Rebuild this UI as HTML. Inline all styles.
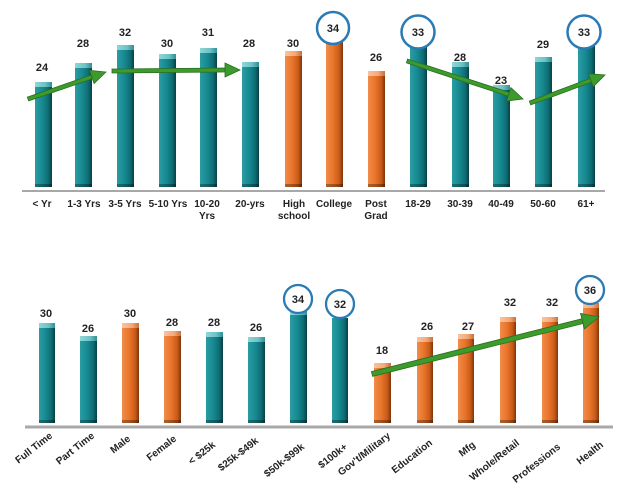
<!DOCTYPE html>
<html><head><meta charset="utf-8"><style>
html,body{margin:0;padding:0;background:#fff;}
svg{display:block;}
text{font-family:"Liberation Sans",sans-serif;font-weight:bold;fill:#222;}
.v{font-size:11px;text-anchor:middle;}
.c{font-size:10px;text-anchor:middle;}
.r{font-size:10px;text-anchor:end;}
</style></head><body>
<svg width="640" height="490" viewBox="0 0 640 490" xmlns="http://www.w3.org/2000/svg">
<defs>
<linearGradient id="tg" x1="0" x2="1" y1="0" y2="0">
<stop offset="0" stop-color="#2a9ca4"/><stop offset="0.45" stop-color="#168890"/><stop offset="0.78" stop-color="#0f6c73"/><stop offset="1" stop-color="#083f45"/>
</linearGradient>
<linearGradient id="tc" x1="0" x2="1" y1="0" y2="0">
<stop offset="0" stop-color="#8fd6d8"/><stop offset="0.6" stop-color="#6cc2c6"/><stop offset="1" stop-color="#2f8e94"/>
</linearGradient>
<linearGradient id="og" x1="0" x2="1" y1="0" y2="0">
<stop offset="0" stop-color="#f28c48"/><stop offset="0.45" stop-color="#e8732a"/><stop offset="0.78" stop-color="#c85a18"/><stop offset="1" stop-color="#7e360c"/>
</linearGradient>
<linearGradient id="oc" x1="0" x2="1" y1="0" y2="0">
<stop offset="0" stop-color="#f9c4a0"/><stop offset="0.6" stop-color="#f4a878"/><stop offset="1" stop-color="#c8703a"/>
</linearGradient>
</defs>

<!-- TOP CHART -->
<g>
<rect x="35" y="82" width="17" height="105" fill="url(#tg)"/><rect x="35" y="82" width="17" height="5" fill="url(#tc)"/>
<rect x="75" y="63" width="17" height="124" fill="url(#tg)"/><rect x="75" y="63" width="17" height="5" fill="url(#tc)"/>
<rect x="117" y="45" width="17" height="142" fill="url(#tg)"/><rect x="117" y="45" width="17" height="5" fill="url(#tc)"/>
<rect x="159" y="54" width="17" height="133" fill="url(#tg)"/><rect x="159" y="54" width="17" height="5" fill="url(#tc)"/>
<rect x="200" y="48" width="17" height="139" fill="url(#tg)"/><rect x="200" y="48" width="17" height="5" fill="url(#tc)"/>
<rect x="242" y="62" width="17" height="125" fill="url(#tg)"/><rect x="242" y="62" width="17" height="5" fill="url(#tc)"/>
<rect x="410" y="42" width="17" height="145" fill="url(#tg)"/>
<rect x="452" y="62" width="17" height="125" fill="url(#tg)"/><rect x="452" y="62" width="17" height="5" fill="url(#tc)"/>
<rect x="493" y="85" width="17" height="102" fill="url(#tg)"/><rect x="493" y="85" width="17" height="5" fill="url(#tc)"/>
<rect x="535" y="57" width="17" height="130" fill="url(#tg)"/><rect x="535" y="57" width="17" height="5" fill="url(#tc)"/>
<rect x="578" y="42" width="17" height="145" fill="url(#tg)"/>
<rect x="285" y="51" width="17" height="136" fill="url(#og)"/><rect x="285" y="51" width="17" height="5" fill="url(#oc)"/>
<rect x="326" y="37" width="17" height="150" fill="url(#og)"/>
<rect x="368" y="71" width="17" height="116" fill="url(#og)"/><rect x="368" y="71" width="17" height="5" fill="url(#oc)"/>
<g fill="#000" opacity="0.3">
<rect x="35" y="184" width="17" height="3"/><rect x="75" y="184" width="17" height="3"/><rect x="117" y="184" width="17" height="3"/><rect x="159" y="184" width="17" height="3"/><rect x="200" y="184" width="17" height="3"/><rect x="242" y="184" width="17" height="3"/><rect x="285" y="184" width="17" height="3"/><rect x="326" y="184" width="17" height="3"/><rect x="368" y="184" width="17" height="3"/><rect x="410" y="184" width="17" height="3"/><rect x="452" y="184" width="17" height="3"/><rect x="493" y="184" width="17" height="3"/><rect x="535" y="184" width="17" height="3"/><rect x="578" y="184" width="17" height="3"/>
</g>
<line x1="22" y1="191" x2="605" y2="191" stroke="#a8a8a8" stroke-width="2"/>

<text class="v" x="42" y="71">24</text>
<text class="v" x="83" y="47">28</text>
<text class="v" x="125" y="36">32</text>
<text class="v" x="167" y="47">30</text>
<text class="v" x="208" y="36">31</text>
<text class="v" x="249" y="47">28</text>
<text class="v" x="293" y="47">30</text>
<text class="v" x="376" y="61">26</text>
<text class="v" x="460" y="61">28</text>
<text class="v" x="501" y="84">23</text>
<text class="v" x="543" y="48">29</text>

<circle cx="333" cy="28" r="16" fill="#fff" stroke="#2a7ab5" stroke-width="2.5"/>
<text class="v" x="333" y="32">34</text>
<circle cx="418" cy="32" r="16.5" fill="#fff" stroke="#2a7ab5" stroke-width="2.5"/>
<text class="v" x="418" y="36">33</text>
<circle cx="584" cy="32" r="16.5" fill="#fff" stroke="#2a7ab5" stroke-width="2.5"/>
<text class="v" x="584" y="36">33</text>

<text class="c" x="42" y="207">&lt; Yr</text>
<text class="c" x="84" y="207">1-3 Yrs</text>
<text class="c" x="125" y="207">3-5 Yrs</text>
<text class="c" x="168" y="207">5-10 Yrs</text>
<text class="c" x="207" y="207">10-20</text>
<text class="c" x="207" y="219">Yrs</text>
<text class="c" x="250" y="207">20-yrs</text>
<text class="c" x="294" y="207">High</text>
<text class="c" x="294" y="219">school</text>
<text class="c" x="334" y="207">College</text>
<text class="c" x="376" y="207">Post</text>
<text class="c" x="376" y="219">Grad</text>
<text class="c" x="418" y="207">18-29</text>
<text class="c" x="460" y="207">30-39</text>
<text class="c" x="501" y="207">40-49</text>
<text class="c" x="543" y="207">50-60</text>
<text class="c" x="586" y="207">61+</text>

<g stroke="#2b6e1f" stroke-width="0.8" fill="#3d9a2c">
<polygon points="27.3,97.1 91.1,75 92.4,78.8 28.7,100.9"/>
<polygon points="106,72 94.1,83.5 89.5,70.3"/>
<polygon points="112,69 225,68 225,72 112,73"/>
<polygon points="240,70 225,77 225,63"/>
<polygon points="407.6,59.1 509.3,92.4 508.1,96.2 406.4,62.9"/>
<polygon points="523,99 506.5,101 510.9,87.6"/>
<polygon points="529.3,101.1 590.2,78.4 591.6,82.1 530.7,104.9"/>
<polygon points="605,75 593.3,86.8 588.4,73.7"/>
</g>
</g>

<!-- BOTTOM CHART -->
<g>
<rect x="39" y="323" width="16" height="100" fill="url(#tg)"/><rect x="39" y="323" width="16" height="5" fill="url(#tc)"/>
<rect x="80" y="336" width="17" height="87" fill="url(#tg)"/><rect x="80" y="336" width="17" height="5" fill="url(#tc)"/>
<rect x="122" y="323" width="17" height="100" fill="url(#og)"/><rect x="122" y="323" width="17" height="5" fill="url(#oc)"/>
<rect x="164" y="331" width="17" height="92" fill="url(#og)"/><rect x="164" y="331" width="17" height="5" fill="url(#oc)"/>
<rect x="206" y="332" width="17" height="91" fill="url(#tg)"/><rect x="206" y="332" width="17" height="5" fill="url(#tc)"/>
<rect x="248" y="337" width="17" height="86" fill="url(#tg)"/><rect x="248" y="337" width="17" height="5" fill="url(#tc)"/>
<rect x="290" y="310" width="17" height="113" fill="url(#tg)"/><rect x="290" y="310" width="17" height="5" fill="url(#tc)"/>
<rect x="332" y="318" width="16" height="105" fill="url(#tg)"/>
<rect x="374" y="363" width="17" height="60" fill="url(#og)"/><rect x="374" y="363" width="17" height="5" fill="url(#oc)"/>
<rect x="417" y="337" width="16" height="86" fill="url(#og)"/><rect x="417" y="337" width="16" height="5" fill="url(#oc)"/>
<rect x="458" y="334" width="16" height="89" fill="url(#og)"/><rect x="458" y="334" width="16" height="5" fill="url(#oc)"/>
<rect x="500" y="317" width="16" height="106" fill="url(#og)"/><rect x="500" y="317" width="16" height="5" fill="url(#oc)"/>
<rect x="542" y="317" width="16" height="106" fill="url(#og)"/><rect x="542" y="317" width="16" height="5" fill="url(#oc)"/>
<rect x="583" y="303" width="16" height="120" fill="url(#og)"/><rect x="583" y="303" width="16" height="5" fill="url(#oc)"/>
<g fill="#000" opacity="0.3">
<rect x="39" y="420" width="16" height="3"/><rect x="80" y="420" width="17" height="3"/><rect x="122" y="420" width="17" height="3"/><rect x="164" y="420" width="17" height="3"/><rect x="206" y="420" width="17" height="3"/><rect x="248" y="420" width="17" height="3"/><rect x="290" y="420" width="17" height="3"/><rect x="332" y="420" width="16" height="3"/><rect x="374" y="420" width="17" height="3"/><rect x="417" y="420" width="16" height="3"/><rect x="458" y="420" width="16" height="3"/><rect x="500" y="420" width="16" height="3"/><rect x="542" y="420" width="16" height="3"/><rect x="583" y="420" width="16" height="3"/>
</g>
<line x1="25" y1="427" x2="613" y2="427" stroke="#a8a8a8" stroke-width="3"/>

<text class="v" x="46" y="317">30</text>
<text class="v" x="88" y="332">26</text>
<text class="v" x="130" y="317">30</text>
<text class="v" x="172" y="326">28</text>
<text class="v" x="214" y="326">28</text>
<text class="v" x="256" y="331">26</text>
<text class="v" x="382" y="354">18</text>
<text class="v" x="427" y="330">26</text>
<text class="v" x="468" y="330">27</text>
<text class="v" x="510" y="306">32</text>
<text class="v" x="552" y="306">32</text>

<circle cx="298" cy="299" r="14" fill="#fff" stroke="#2a7ab5" stroke-width="2.3"/>
<text class="v" x="298" y="303">34</text>
<circle cx="340" cy="304" r="14" fill="#fff" stroke="#2a7ab5" stroke-width="2.3"/>
<text class="v" x="340" y="308">32</text>
<circle cx="590" cy="290" r="14" fill="#fff" stroke="#2a7ab5" stroke-width="2.3"/>
<text class="v" x="590" y="294">36</text>

<text class="r" transform="translate(53,437) rotate(-38)">Full Time</text>
<text class="r" transform="translate(95,437) rotate(-38)">Part Time</text>
<text class="r" transform="translate(131,440) rotate(-38)">Male</text>
<text class="r" transform="translate(177,440) rotate(-38)">Female</text>
<text class="r" transform="translate(216,446) rotate(-38)">&lt; $25k</text>
<text class="r" transform="translate(259,442) rotate(-38)">$25k-$49k</text>
<text class="r" transform="translate(305,448) rotate(-38)">$50k-$99k</text>
<text class="r" transform="translate(348,448) rotate(-38)">$100k+</text>
<text class="r" transform="translate(391,437) rotate(-38)">Gov’t/Military</text>
<text class="r" transform="translate(433,444) rotate(-38)">Education</text>
<text class="r" transform="translate(476,446) rotate(-38)">Mfg</text>
<text class="r" transform="translate(520,444) rotate(-38)">Whole/Retail</text>
<text class="r" transform="translate(561,448) rotate(-38)">Professions</text>
<text class="r" transform="translate(604,446) rotate(-38)">Health</text>

<g stroke="#2b6e1f" stroke-width="0.8" fill="#3d9a2c">
<polygon points="371.4,371.6 582,318.7 583.2,323.5 372.6,376.4"/>
<polygon points="599,317 584.4,328.9 580.5,313.4"/>
</g>
</g>
</svg>
</body></html>
